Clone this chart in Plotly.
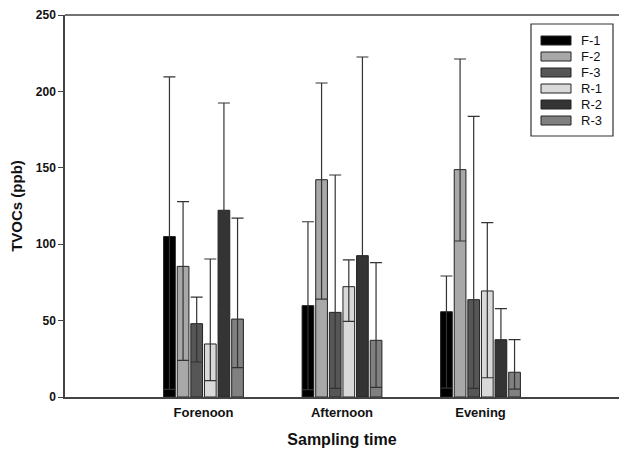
import plotly.graph_objects as go

categories = ["Forenoon", "Afternoon", "Evening"]
series_names = ["F-1", "F-2", "F-3", "R-1", "R-2", "R-3"]
colors = ["#000000", "#a8a8a8", "#565656", "#d9d9d9", "#343434", "#808080"]

means = {
    "F-1": [105.0, 59.8, 55.8],
    "F-2": [85.5, 142.2, 148.8],
    "F-3": [48.0, 55.4, 63.7],
    "R-1": [34.7, 72.2, 69.4],
    "R-2": [122.2, 92.5, 37.5],
    "R-3": [51.0, 37.1, 16.2],
}
err_plus = {
    "F-1": [104.5, 54.9, 23.4],
    "F-2": [42.3, 63.3, 72.4],
    "F-3": [17.4, 89.9, 120.0],
    "R-1": [55.6, 17.5, 44.7],
    "R-2": [70.2, 130.0, 20.3],
    "R-3": [66.0, 50.8, 21.3],
}
err_minus = {
    "F-1": [100.0, 55.0, 50.0],
    "F-2": [61.5, 78.1, 46.7],
    "F-3": [25.1, 49.7, 58.0],
    "R-1": [24.0, 22.7, 56.8],
    "R-2": [62.0, 67.5, 30.1],
    "R-3": [31.8, 30.8, 11.0],
}
y_ticks = [0, 50, 100, 150, 200, 250]

FONT = "Arial, Liberation Sans, sans-serif"
W, H = 619, 450
ML, MR, MT, MB = 65, 0, 15, 53
PW, PH = W - ML - MR, H - MT - MB
AXIS_COLOR = "#444444"

fig = go.Figure()
xpos = [1, 2, 3]
for name, col in zip(series_names, colors):
    fig.add_trace(go.Bar(
        x=xpos, y=means[name], name=name,
        marker=dict(color=col, line=dict(color="#222222", width=1)),
        error_y=dict(type="data", symmetric=False,
                     array=err_plus[name], arrayminus=err_minus[name],
                     color="#333333", thickness=1.2, width=6),
        showlegend=False,
    ))

def px2paper_x(px):
    return (px - ML) / PW

def px2paper_y(py):
    return (H - MB - py) / PH

# top frame line of the plot area
shapes = [dict(type="line", xref="paper", yref="paper", x0=0, x1=1, y0=1, y1=1,
               line=dict(color=AXIS_COLOR, width=1.5), layer="above")]
# legend box
shapes.append(dict(type="rect", xref="paper", yref="paper",
                   x0=px2paper_x(531), x1=px2paper_x(613),
                   y0=px2paper_y(136), y1=px2paper_y(24),
                   line=dict(color="#333333", width=1.2), fillcolor="white", layer="above"))
annotations = []
for i, (name, col) in enumerate(zip(series_names, colors)):
    cy = 40.5 + i * 16
    shapes.append(dict(type="rect", xref="paper", yref="paper",
                       x0=px2paper_x(541), x1=px2paper_x(571),
                       y0=px2paper_y(cy + 4.5), y1=px2paper_y(cy - 4.5),
                       line=dict(color="#222222", width=1), fillcolor=col, layer="above"))
    annotations.append(dict(xref="paper", yref="paper", x=px2paper_x(579), y=px2paper_y(cy),
                            text=name, showarrow=False, xanchor="left", yanchor="middle",
                            font=dict(family=FONT, size=13, color="#111111")))

fig.update_layout(
    width=W, height=H,
    margin=dict(l=ML, r=MR, t=MT, b=MB),
    plot_bgcolor="white", paper_bgcolor="white",
    barmode="group", bargap=0.41, bargroupgap=0.14,
    font=dict(family=FONT, color="#111111"),
    shapes=shapes, annotations=annotations,
    xaxis=dict(range=[0, 4], tickvals=xpos, ticktext=categories,
               showline=True, linecolor=AXIS_COLOR, linewidth=1.5, mirror=False,
               ticks="", showgrid=False, zeroline=False, ticklabelstandoff=3,
               tickfont=dict(family=FONT, size=13, color="#111111", weight="bold"),
               title=dict(text="Sampling time", standoff=14,
                          font=dict(family=FONT, size=16, color="#111111", weight="bold"))),
    yaxis=dict(range=[0, 250], tickvals=y_ticks,
               showline=True, linecolor=AXIS_COLOR, linewidth=1.5, mirror=False,
               ticks="outside", ticklen=5, tickcolor=AXIS_COLOR,
               showgrid=False, zeroline=False,
               tickfont=dict(family=FONT, size=12, color="#111111", weight="bold"),
               title=dict(text="TVOCs (ppb)", standoff=10,
                          font=dict(family=FONT, size=15, color="#111111", weight="bold"))),
)

fig.write_html("out.html", config={"displayModeBar": False},
               post_script=("document.documentElement.style.overflow='hidden';"
                            "document.body.style.margin='0';"
                            "document.body.style.overflow='hidden';"))
